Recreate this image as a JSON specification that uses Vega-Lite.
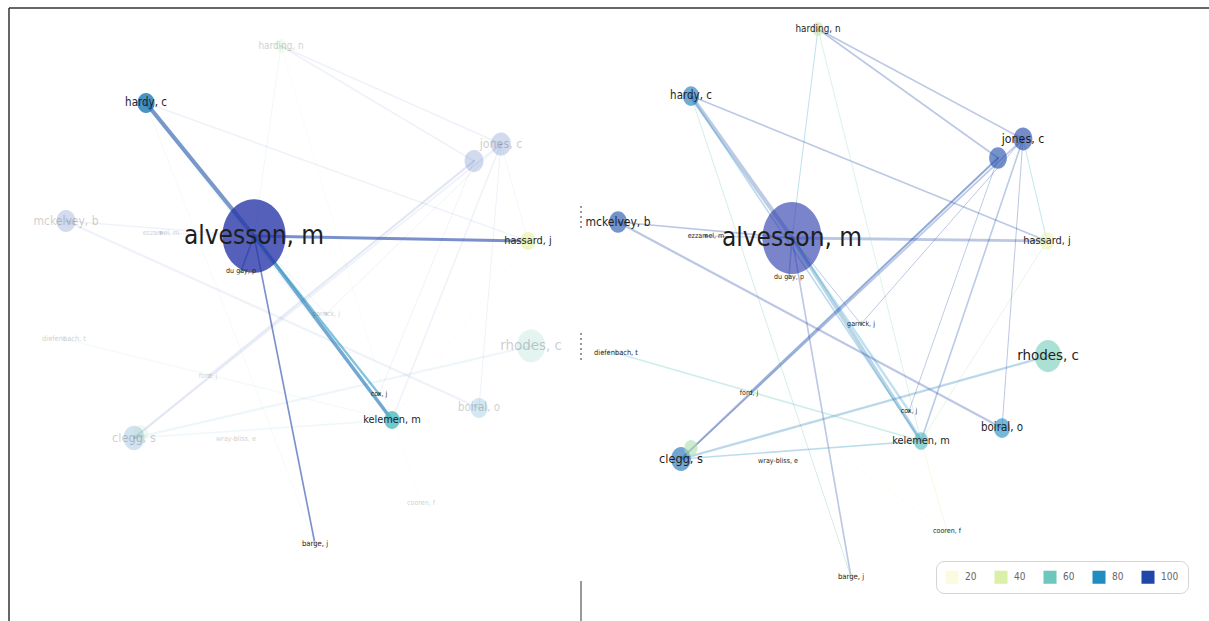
{
  "$schema": "https://vega.github.io/schema/vega-lite/v6.json",
  "padding": {"left": 8, "top": 7, "right": 0, "bottom": 0},
  "spacing": 0,
  "bounds": "flush",
  "background": "white",
  "config": {
    "view": {"stroke": null},
    "text": {"font": "DejaVu Sans Condensed, Liberation Sans Narrow, Roboto, sans-serif"},
    "legend": {
      "padding": 9,
      "strokeColor": "#d4d4d4",
      "cornerRadius": 8,
      "labelFontSize": 10,
      "labelColor": "#666",
      "labelOffset": 6,
      "labelFont": "DejaVu Sans Condensed, Liberation Sans Narrow, sans-serif",
      "columnPadding": 17,
      "symbolSize": 170,
      "symbolType": "square",
      "symbolStrokeWidth": 0
    }
  },
  "datasets": {
    "nodesL": [
      {"name": "alvesson, m", "label": "alvesson, m", "x": 245, "y": 228, "w": 100, "score": 104, "hl": 1},
      {"name": "hardy, c", "label": "hardy, c", "x": 137, "y": 95, "w": 7.5, "score": 86, "hl": 1},
      {"name": "harding, n", "label": "harding, n", "x": 272, "y": 38, "w": 3.7, "score": 45, "hl": 0},
      {"name": "jones, c", "label": "jones, c", "x": 492, "y": 136, "w": 10, "score": 100, "hl": 0},
      {"name": "sn", "label": "", "x": 465, "y": 153, "w": 9, "score": 98, "hl": 0},
      {"name": "mckelvey, b", "label": "mckelvey, b", "x": 57, "y": 213, "w": 9, "score": 97, "hl": 0},
      {"name": "ezzamel, m", "label": "ezzamel, m", "x": 152, "y": 225, "w": 0.3, "score": 90, "hl": 0},
      {"name": "du gay, p", "label": "du gay, p", "x": 232, "y": 263, "w": 0.3, "score": 60, "hl": 1},
      {"name": "hassard, j", "label": "hassard, j", "x": 519, "y": 233, "w": 6, "score": 35, "hl": 1},
      {"name": "garrick, j", "label": "garrick, j", "x": 317, "y": 306, "w": 0.3, "score": 75, "hl": 0},
      {"name": "diefenbach, t", "label": "diefenbach, t", "x": 55, "y": 331, "w": 0.5, "score": 45, "hl": 0},
      {"name": "rhodes, c", "label": "rhodes, c", "x": 522, "y": 338, "w": 20, "score": 58, "hl": 0},
      {"name": "ford, j", "label": "ford, j", "x": 199, "y": 368, "w": 0.3, "score": 35, "hl": 0},
      {"name": "cox, j", "label": "cox, j", "x": 370, "y": 386, "w": 0.3, "score": 70, "hl": 1},
      {"name": "kelemen, m", "label": "kelemen, m", "x": 383, "y": 412, "w": 6, "score": 65, "hl": 1},
      {"name": "boiral, o", "label": "boiral, o", "x": 470, "y": 400, "w": 7.5, "score": 80, "hl": 0},
      {"name": "clegg, s", "label": "clegg, s", "x": 125, "y": 430, "w": 11, "score": 88, "hl": 0},
      {"name": "c2", "label": "", "x": 132, "y": 425, "w": 5, "score": 50, "hl": 0},
      {"name": "wray-bliss, e", "label": "wray-bliss, e", "x": 227, "y": 431, "w": 0.3, "score": 40, "hl": 0},
      {"name": "cooren, f", "label": "cooren, f", "x": 412, "y": 495, "w": 0.3, "score": 22, "hl": 0},
      {"name": "barge, j", "label": "barge, j", "x": 306, "y": 536, "w": 0.7, "score": 25, "hl": 1}
    ],
    "nodesR": [
      {"name": "alvesson, m", "label": "alvesson, m", "x": 211, "y": 230, "w": 100, "score": 104},
      {"name": "hardy, c", "label": "hardy, c", "x": 110, "y": 88, "w": 7.5, "score": 86},
      {"name": "harding, n", "label": "harding, n", "x": 237, "y": 21, "w": 3.7, "score": 45},
      {"name": "jones, c", "label": "jones, c", "x": 442, "y": 131, "w": 10, "score": 100},
      {"name": "sn", "label": "", "x": 417, "y": 150, "w": 9, "score": 98},
      {"name": "mckelvey, b", "label": "mckelvey, b", "x": 37, "y": 214, "w": 9, "score": 97},
      {"name": "ezzamel, m", "label": "ezzamel, m", "x": 125, "y": 228, "w": 0.3, "score": 90},
      {"name": "du gay, p", "label": "du gay, p", "x": 208, "y": 269, "w": 0.3, "score": 60},
      {"name": "hassard, j", "label": "hassard, j", "x": 466, "y": 233, "w": 6, "score": 35},
      {"name": "garrick, j", "label": "garrick, j", "x": 280, "y": 316, "w": 0.3, "score": 75},
      {"name": "diefenbach, t", "label": "diefenbach, t", "x": 35, "y": 345, "w": 0.5, "score": 45},
      {"name": "rhodes, c", "label": "rhodes, c", "x": 467, "y": 348, "w": 20, "score": 58},
      {"name": "ford, j", "label": "ford, j", "x": 168, "y": 385, "w": 0.3, "score": 35},
      {"name": "cox, j", "label": "cox, j", "x": 328, "y": 403, "w": 0.3, "score": 70},
      {"name": "kelemen, m", "label": "kelemen, m", "x": 340, "y": 433, "w": 6, "score": 65},
      {"name": "boiral, o", "label": "boiral, o", "x": 421, "y": 420, "w": 7.5, "score": 80},
      {"name": "clegg, s", "label": "clegg, s", "x": 100, "y": 451, "w": 11, "score": 88},
      {"name": "c2", "label": "", "x": 110, "y": 440, "w": 5, "score": 50},
      {"name": "wray-bliss, e", "label": "wray-bliss, e", "x": 197, "y": 453, "w": 0.3, "score": 40},
      {"name": "cooren, f", "label": "cooren, f", "x": 366, "y": 523, "w": 0.3, "score": 22},
      {"name": "barge, j", "label": "barge, j", "x": 270, "y": 569, "w": 0.7, "score": 25}
    ],
    "edges": [
      {"s": "alvesson, m", "t": "hardy, c", "lw": 6, "score": 95, "hl": 1},
      {"s": "alvesson, m", "t": "hassard, j", "lw": 4, "score": 100, "hl": 1},
      {"s": "alvesson, m", "t": "kelemen, m", "lw": 5, "score": 88, "hl": 1},
      {"s": "alvesson, m", "t": "cox, j", "lw": 3, "score": 75, "hl": 1},
      {"s": "alvesson, m", "t": "barge, j", "lw": 2, "score": 100, "hl": 1},
      {"s": "alvesson, m", "t": "du gay, p", "lw": 2, "score": 95, "hl": 1},
      {"s": "alvesson, m", "t": "mckelvey, b", "lw": 2, "score": 100, "hl": 0},
      {"s": "alvesson, m", "t": "harding, n", "lw": 1, "score": 75, "hl": 0},
      {"s": "alvesson, m", "t": "ezzamel, m", "lw": 1, "score": 100, "hl": 0},
      {"s": "alvesson, m", "t": "garrick, j", "lw": 1, "score": 95, "hl": 0},
      {"s": "hardy, c", "t": "kelemen, m", "lw": 2, "score": 80, "hl": 0},
      {"s": "hardy, c", "t": "hassard, j", "lw": 2, "score": 98, "hl": 0},
      {"s": "hardy, c", "t": "barge, j", "lw": 1, "score": 60, "hl": 0},
      {"s": "harding, n", "t": "jones, c", "lw": 2, "score": 98, "hl": 0},
      {"s": "harding, n", "t": "sn", "lw": 2, "score": 98, "hl": 0},
      {"s": "harding, n", "t": "kelemen, m", "lw": 1, "score": 55, "hl": 0},
      {"s": "mckelvey, b", "t": "boiral, o", "lw": 3, "score": 100, "hl": 0},
      {"s": "jones, c", "t": "kelemen, m", "lw": 2, "score": 95, "hl": 0},
      {"s": "hassard, j", "t": "kelemen, m", "lw": 1, "score": 50, "hl": 0},
      {"s": "sn", "t": "clegg, s", "lw": 3, "score": 100, "hl": 0},
      {"s": "jones, c", "t": "clegg, s", "lw": 2, "score": 100, "hl": 0},
      {"s": "rhodes, c", "t": "clegg, s", "lw": 3, "score": 85, "hl": 0},
      {"s": "clegg, s", "t": "kelemen, m", "lw": 2, "score": 80, "hl": 0},
      {"s": "diefenbach, t", "t": "kelemen, m", "lw": 2, "score": 62, "hl": 0},
      {"s": "sn", "t": "ford, j", "lw": 2, "score": 90, "hl": 0},
      {"s": "jones, c", "t": "garrick, j", "lw": 1, "score": 100, "hl": 0},
      {"s": "jones, c", "t": "hassard, j", "lw": 1, "score": 70, "hl": 0},
      {"s": "cooren, f", "t": "ford, j", "lw": 1, "score": 28, "hl": 0},
      {"s": "cooren, f", "t": "kelemen, m", "lw": 1, "score": 40, "hl": 0},
      {"s": "sn", "t": "cox, j", "lw": 1, "score": 95, "hl": 0},
      {"s": "jones, c", "t": "boiral, o", "lw": 1, "score": 100, "hl": 0}
    ]
  },
  "resolve": {"scale": {"color": "independent", "fill": "independent", "x": "independent", "y": "independent"}},
  "hconcat": [
    {
      "width": 572,
      "height": 614,
      "resolve": {"scale": {"size": "independent", "opacity": "independent"}},
      "layer": [
        {
          "data": {"name": "edges"},
          "transform": [
            {"lookup": "s", "from": {"data": {"name": "nodesL"}, "key": "name", "fields": ["x", "y"]}, "as": ["x1", "y1"]},
            {"lookup": "t", "from": {"data": {"name": "nodesL"}, "key": "name", "fields": ["x", "y"]}, "as": ["xb", "yb"]}
          ],
          "mark": {"type": "rule", "strokeCap": "round"},
          "encoding": {
            "x": {"field": "x1", "type": "quantitative", "scale": {"domain": [0, 572], "nice": false, "zero": false}, "axis": null},
            "y": {"field": "y1", "type": "quantitative", "scale": {"domain": [0, 614], "nice": false, "zero": false, "reverse": true}, "axis": null},
            "x2": {"field": "xb"},
            "y2": {"field": "yb"},
            "color": {"field": "score", "type": "quantitative", "scale": {"domain": [15, 105], "range": ["#fbfbf0", "#fafad0", "#e6f3a8", "#b8e2b0", "#6cc7bd", "#35a9c6", "#2384bd", "#2359a8", "#2c34a8"]}, "legend": null},
            "strokeWidth": {"field": "lw", "type": "quantitative", "scale": {"domain": [1, 6], "range": [1, 4.2]}, "legend": null},
            "opacity": {"field": "hl", "type": "quantitative", "scale": {"domain": [0, 1], "range": [0.07, 0.6]}, "legend": null}
          }
        },
        {
          "data": {"name": "nodesL"},
          "mark": {"type": "point", "filled": true, "shape": "M-0.86,0A0.86,1,0,1,1,0.86,0A0.86,1,0,1,1,-0.86,0Z"},
          "encoding": {
            "x": {"field": "x", "type": "quantitative", "axis": null},
            "y": {"field": "y", "type": "quantitative", "axis": null},
            "fill": {"field": "score", "type": "quantitative", "scale": {"domain": [15, 105], "range": ["#fbfbf0", "#fafad0", "#e6f3a8", "#b8e2b0", "#6cc7bd", "#35a9c6", "#2384bd", "#2359a8", "#2c34a8"]}, "legend": null},
            "size": {"field": "w", "type": "quantitative", "scale": {"type": "linear", "domain": [0, 100], "range": [0, 5400]}, "legend": null},
            "opacity": {"field": "hl", "type": "quantitative", "scale": {"domain": [0, 1], "range": [0.2, 0.8]}, "legend": null}
          }
        },
        {
          "data": {"name": "nodesL"},
          "mark": {"type": "text", "align": "center", "baseline": "middle", "color": "#1e1e1e"},
          "encoding": {
            "x": {"field": "x", "type": "quantitative", "axis": null},
            "y": {"field": "y", "type": "quantitative", "axis": null},
            "text": {"field": "label"},
            "size": {"field": "w", "type": "quantitative", "scale": {"type": "sqrt", "domain": [0, 100], "range": [6, 26]}, "legend": null},
            "opacity": {"field": "hl", "type": "quantitative", "scale": {"domain": [0, 1], "range": [0.22, 1]}, "legend": null}
          }
        },
        {"data": {"values": [{}]}, "mark": {"type": "rule", "color": "#333", "strokeWidth": 1.5}, "encoding": {"y": {"datum": 0}}},
        {"data": {"values": [{}]}, "mark": {"type": "rule", "color": "#333", "strokeWidth": 1.5}, "encoding": {"x": {"datum": 0}}},
        {"data": {"values": [{}]}, "mark": {"type": "rule", "color": "#555", "strokeWidth": 1.2}, "encoding": {"x": {"datum": 572}, "y": {"datum": 573}, "y2": {"datum": 614}}},
        {"data": {"values": [{}]}, "mark": {"type": "rule", "color": "#555", "strokeWidth": 1.2, "strokeDash": [2, 3]}, "encoding": {"x": {"datum": 572}, "y": {"datum": 198}, "y2": {"datum": 220}}},
        {"data": {"values": [{}]}, "mark": {"type": "rule", "color": "#555", "strokeWidth": 1.2, "strokeDash": [2, 3]}, "encoding": {"x": {"datum": 572}, "y": {"datum": 325}, "y2": {"datum": 352}}}
      ]
    },
    {
      "width": 629,
      "height": 614,
      "resolve": {"scale": {"size": "independent"}},
      "layer": [
        {
          "data": {"name": "edges"},
          "transform": [
            {"lookup": "s", "from": {"data": {"name": "nodesR"}, "key": "name", "fields": ["x", "y"]}, "as": ["x1", "y1"]},
            {"lookup": "t", "from": {"data": {"name": "nodesR"}, "key": "name", "fields": ["x", "y"]}, "as": ["xb", "yb"]}
          ],
          "mark": {"type": "rule", "strokeCap": "round", "opacity": 0.3},
          "encoding": {
            "x": {"field": "x1", "type": "quantitative", "scale": {"domain": [0, 629], "nice": false, "zero": false}, "axis": null},
            "y": {"field": "y1", "type": "quantitative", "scale": {"domain": [0, 614], "nice": false, "zero": false, "reverse": true}, "axis": null},
            "x2": {"field": "xb"},
            "y2": {"field": "yb"},
            "color": {"field": "score", "type": "quantitative", "scale": {"domain": [15, 105], "range": ["#fbfbf0", "#fafad0", "#e6f3a8", "#b8e2b0", "#6cc7bd", "#35a9c6", "#2384bd", "#2359a8", "#2c34a8"]}, "legend": {"type": "gradient", "title": null, "orient": "none", "legendX": 355, "legendY": 553, "direction": "horizontal", "values": [20, 40, 60, 80, 100]}},
            "strokeWidth": {"field": "lw", "type": "quantitative", "scale": {"domain": [1, 6], "range": [0.9, 2.6]}, "legend": null}
          }
        },
        {
          "data": {"name": "nodesR"},
          "mark": {"type": "point", "filled": true, "opacity": 0.62, "shape": "M-0.82,0A0.82,1,0,1,1,0.82,0A0.82,1,0,1,1,-0.82,0Z"},
          "encoding": {
            "x": {"field": "x", "type": "quantitative", "axis": null},
            "y": {"field": "y", "type": "quantitative", "axis": null},
            "fill": {"field": "score", "type": "quantitative", "scale": {"domain": [15, 105], "range": ["#fbfbf0", "#fafad0", "#e6f3a8", "#b8e2b0", "#6cc7bd", "#35a9c6", "#2384bd", "#2359a8", "#2c34a8"]}, "legend": null},
            "size": {"field": "w", "type": "quantitative", "scale": {"type": "linear", "domain": [0, 100], "range": [0, 5200]}, "legend": null}
          }
        },
        {
          "data": {"name": "nodesR"},
          "mark": {"type": "text", "align": "center", "baseline": "middle", "color": "#1e1e1e"},
          "encoding": {
            "x": {"field": "x", "type": "quantitative", "axis": null},
            "y": {"field": "y", "type": "quantitative", "axis": null},
            "text": {"field": "label"},
            "size": {"field": "w", "type": "quantitative", "scale": {"type": "sqrt", "domain": [0, 100], "range": [6, 26]}, "legend": null}
          }
        },
        {"data": {"values": [{}]}, "mark": {"type": "rule", "color": "#333", "strokeWidth": 1.5}, "encoding": {"y": {"datum": 0}}}
      ]
    }
  ]
}
